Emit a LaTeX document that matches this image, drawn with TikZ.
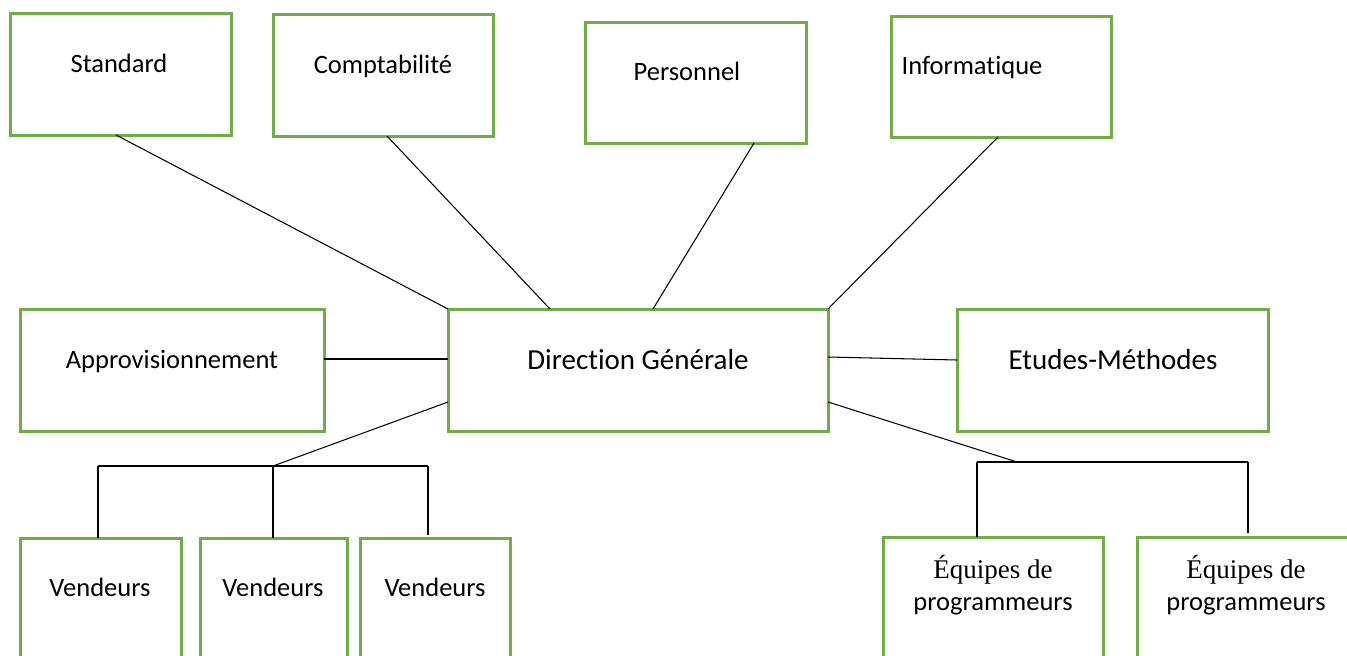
\documentclass[tikz,border=0pt]{standalone}
\usepackage{fontspec}
\setmainfont{Carlito}[Ligatures={NoCommon}, RawFeature={-liga;-clig}]
\newfontfamily\timesfont{Liberation Serif}
\usetikzlibrary{calc}
\definecolor{boxgreen}{HTML}{70AD47}
\begin{document}
\begin{tikzpicture}[x=1pt,y=-1pt,
  unitbox/.style={draw=boxgreen, line width=3pt, fill=white, rectangle, inner sep=0pt, outer sep=0pt},
  txt/.style={anchor=base, inner sep=0pt, font=\fontsize{26.5}{32}\selectfont},
  bigtxt/.style={anchor=base, inner sep=0pt, font=\fontsize{29}{35}\selectfont},
  link/.style={draw=black, line width=1.05pt}]
\clip (0,0) rectangle (1347,656);
\fill[white] (0,0) rectangle (1347,656);

% junction points of the two lower branches
\coordinate (vl) at (98,466);
\coordinate (vm) at (273,466);
\coordinate (vr) at (428,466);
\coordinate (el) at (977,462);
\coordinate (ej) at (1017,462);
\coordinate (er) at (1248,462);

% boxes
\node[unitbox, minimum width=221, minimum height=122] (std) at (120.5,74) {};
\node[unitbox, minimum width=220, minimum height=122] (cpt) at (383,75) {};
\node[unitbox, minimum width=221, minimum height=121] (per) at (695.5,82.5) {};
\node[unitbox, minimum width=220, minimum height=121] (inf) at (1001,76.5) {};
\node[unitbox, minimum width=304, minimum height=122] (app) at (172,370) {};
\node[unitbox, minimum width=380, minimum height=122] (dg) at (638,370) {};
\node[unitbox, minimum width=311, minimum height=122] (etu) at (1112.5,370) {};
\node[unitbox, minimum width=161, minimum height=122] (v1) at (100.5,599) {};
\node[unitbox, minimum width=147, minimum height=122] (v2) at (273.5,599) {};
\node[unitbox, minimum width=150, minimum height=122] (v3) at (435,599) {};
\node[unitbox, minimum width=220, minimum height=122] (e1) at (993,598) {};
\node[unitbox, minimum width=220, minimum height=122] (e2) at (1247,598) {};

% labels
\node[txt] (tstd) at (119,72) {Standard};
\node[txt] (tcpt) at (383,73) {Comptabilité};
\node[txt] (tper) at (687,80) {Personnel};
\node[txt] (tinf) at (972,74) {Informatique};
\node[txt] (tapp) at (172,368) {Approvisionnement};
\node[bigtxt] (tdg) at (638,369) {Direction Générale};
\node[bigtxt] (tetu) at (1113,369) {Etudes-Méthodes};
\node[txt] (tv1) at (100,596) {Vendeurs};
\node[txt] (tv2) at (273,596) {Vendeurs};
\node[txt] (tv3) at (435,596) {Vendeurs};
\node[txt, font=\timesfont\fontsize{27}{32}\selectfont] (te1a) at (993,578) {Équipes de};
\node[txt] (te1b) at (993,610) {programmeurs};
\node[txt, font=\timesfont\fontsize{27}{32}\selectfont] (te2a) at (1246,578) {Équipes de};
\node[txt] (te2b) at (1246,610) {programmeurs};

% links from the upper services to the direction
\draw[link] ([xshift=-4.5pt]std.south) -- (dg.north west);
\draw[link] ([xshift=4pt]cpt.south) -- ([xshift=102pt]dg.north west);
\draw[link] ([xshift=-52pt]per.south east) -- ([xshift=205pt]dg.north west);
\draw[link] ([xshift=-3pt]inf.south) -- (dg.north east);

% side links
\draw[link] ([yshift=11pt]app.east) -- ([yshift=11pt]dg.west);
\draw[link] ([yshift=13pt]dg.east) -- ([yshift=10pt]etu.west);

% sales branch
\draw[link] ([yshift=-32pt]dg.west) -- (vm);
\draw[link] (vl) -- (vr);
\draw[link] (vl) -- (vl |- v1.north);
\draw[link] (vm) -- (vm |- v2.north);
\draw[link] (vr) -- ++(0,69);

% programming teams branch
\draw[link] ([yshift=-32pt]dg.east) -- (ej);
\draw[link] (el) -- (er);
\draw[link] (el) -- (el |- e1.north);
\draw[link] (er) -- ++(0,71);
\end{tikzpicture}
\end{document}
